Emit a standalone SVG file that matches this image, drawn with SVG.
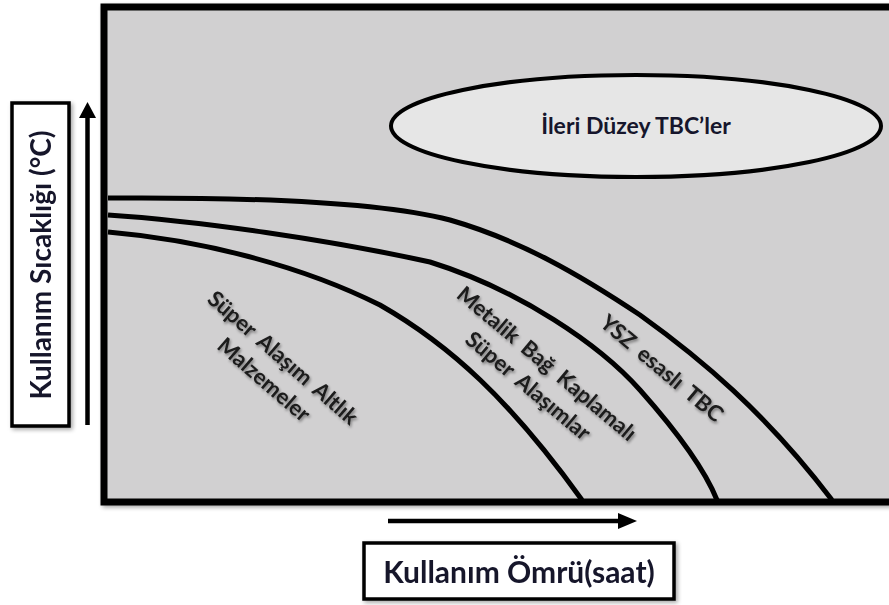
<svg xmlns="http://www.w3.org/2000/svg" width="889" height="605" viewBox="0 0 889 605">
  <defs>
    <filter id="soft" x="-10%" y="-10%" width="130%" height="130%">
      <feGaussianBlur in="SourceAlpha" stdDeviation="2"/>
      <feOffset dx="1.5" dy="2" result="b"/>
      <feComponentTransfer><feFuncA type="linear" slope="0.35"/></feComponentTransfer>
      <feMerge><feMergeNode/><feMergeNode in="SourceGraphic"/></feMerge>
    </filter>
    <filter id="glow" x="-20%" y="-20%" width="140%" height="140%">
      <feGaussianBlur in="SourceAlpha" stdDeviation="1.6"/>
      <feOffset dx="1" dy="1.5"/>
      <feComponentTransfer><feFuncA type="linear" slope="0.45"/></feComponentTransfer>
      <feMerge><feMergeNode/><feMergeNode in="SourceGraphic"/></feMerge>
    </filter>
  </defs>
  <style>
    .lbl { font-family: Lato, "Open Sans", "Liberation Sans", sans-serif; font-weight: 700; }
    .axis { fill: #ffffff; stroke: #000000; stroke-width: 3.5; }
    .curve { fill: none; stroke: #000000; stroke-width: 5; stroke-linecap: butt; }
    .rot { font-size: 22px; fill: #1b1b1b; text-anchor: middle; word-spacing: 4px; }
    .arrow { stroke: #000000; stroke-width: 4.5; fill: none; }
  </style>
  <rect width="889" height="605" fill="#ffffff"/>

  <!-- plot area -->
  <g id="plot" filter="url(#soft)">
    <rect x="104" y="7" width="800" height="495" fill="#d1d0d1" stroke="#000000" stroke-width="7"/>
  </g>

  <!-- performance curves -->
  <g id="curves">
    <path id="curve-ysz" class="curve" d="M108,198 C250,197 380,202 450,220 C520,240 580,275 640,315 C700,358 765,412 832,500"/>
    <path id="curve-bond" class="curve" d="M108,215 C200,221 330,240 430,262 C520,290 600,345 640,390 C680,435 705,470 717,500"/>
    <path id="curve-super" class="curve" d="M108,232 C200,240 300,265 380,305 C450,345 510,400 582,500"/>
  </g>

  <!-- advanced TBC region -->
  <g id="advanced-tbc">
    <ellipse cx="636" cy="126" rx="245" ry="51" fill="#e6e6e6" stroke="#000000" stroke-width="4"/>
    <text class="lbl" x="636" y="134" font-size="23" fill="#16162c" text-anchor="middle">İleri Düzey TBC’ler</text>
  </g>

  <!-- curve labels -->
  <g id="label-super" filter="url(#glow)">
    <g transform="translate(274,368) rotate(41)">
      <text class="lbl rot" x="0" y="-6">Süper Alaşım Altlık</text>
      <text class="lbl rot" x="0" y="23">Malzemeler</text>
    </g>
  </g>
  <g id="label-bond" filter="url(#glow)">
    <g transform="translate(538,374) rotate(40)">
      <text class="lbl rot" x="0" y="-6">Metalik Bağ Kaplamalı</text>
      <text class="lbl rot" x="0" y="23">Süper Alaşımlar</text>
    </g>
  </g>
  <g id="label-ysz" filter="url(#glow)">
    <text class="lbl rot" transform="translate(662,368) rotate(40)" x="0" y="8">YSZ esaslı TBC</text>
  </g>

  <!-- axis titles -->
  <g id="y-title" filter="url(#soft)">
    <rect class="axis" x="12" y="103" width="57" height="323"/>
    <text class="lbl" transform="translate(51,265) rotate(-90)" x="0" y="0" font-size="28" fill="#16162c" text-anchor="middle">Kullanım Sıcaklığı (°C)</text>
  </g>
  <g id="x-title" filter="url(#soft)">
    <rect class="axis" x="364" y="543" width="310" height="56"/>
    <text class="lbl" x="519" y="583" font-size="30" fill="#16162c" text-anchor="middle">Kullanım Ömrü(saat)</text>
  </g>

  <!-- axis arrows -->
  <g id="connectors">
    <line class="arrow" x1="87.5" y1="425" x2="87.5" y2="116"/>
    <polygon points="79,118 96,118 87.5,102" fill="#000000"/>
    <line class="arrow" x1="388" y1="521" x2="620" y2="521"/>
    <polygon points="618,513 618,529 637,521" fill="#000000"/>
  </g>
</svg>
